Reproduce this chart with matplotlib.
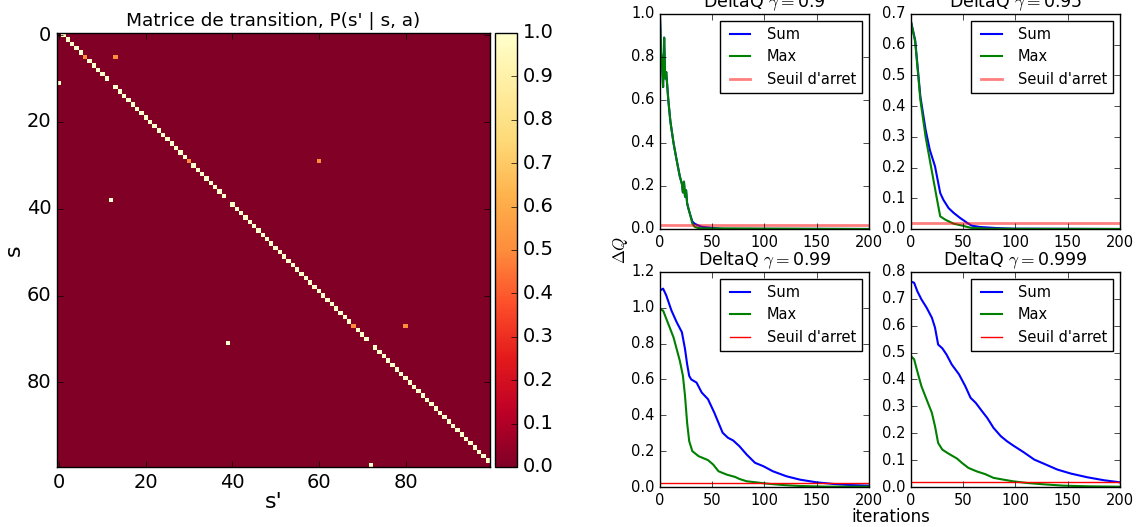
import numpy as np
import matplotlib as mpl
mpl.use('Agg')
import matplotlib.pyplot as plt

plt.style.use('classic')
plt.rcParams['figure.facecolor'] = 'white'
plt.rcParams['savefig.facecolor'] = 'white'

######### transition matrix #########
n_states = 100
# states that do not move to s+1 but jump elsewhere with prob 1
jump_from = [11, 38, 71, 99]
jump_to = [0, 12, 39, 72]
# states that split 0.5 / 0.5 between s+1 and another state
split_from = [5, 29, 67]
split_to = [13, 60, 80]
split_p = 0.5

######### DeltaQ curves (iteration, value) #########
gammas = [0.9, 0.95, 0.99, 0.999]
seuil = 0.02

it_sum_09 = [0, 1, 2, 3, 4, 5, 6, 8, 10, 13, 16, 19, 21, 22, 23, 24, 25, 26, 27, 29, 31, 33, 36, 40, 50, 60, 200]
sum_09 = [1.0, 0.82, 0.78, 0.66, 0.89, 0.70, 0.73, 0.60, 0.50, 0.40, 0.32, 0.245, 0.21, 0.17, 0.22, 0.15, 0.18, 0.12, 0.10, 0.065, 0.035, 0.025, 0.018, 0.010, 0.005, 0.0005, 0.0]
it_max_09 = [0, 1, 2, 3, 4, 5, 6, 8, 10, 13, 16, 19, 21, 22, 23, 24, 25, 26, 27, 29, 31, 33, 36, 40, 200]
max_09 = [1.0, 0.82, 0.78, 0.66, 0.89, 0.70, 0.73, 0.60, 0.50, 0.40, 0.32, 0.245, 0.21, 0.17, 0.22, 0.15, 0.18, 0.12, 0.10, 0.065, 0.026, 0.011, 0.005, 0.003, 0.0]

it_sum_095 = [0, 4, 9, 14, 18, 23, 28, 31, 36, 41, 47, 54, 58, 66, 82, 98, 200]
sum_095 = [0.675, 0.615, 0.431, 0.323, 0.258, 0.204, 0.117, 0.095, 0.068, 0.052, 0.036, 0.0195, 0.011, 0.0065, 0.003, 0.001, 0.0]
it_max_095 = [0, 4, 9, 14, 18, 25, 28, 33, 41, 49, 57, 73, 200]
max_095 = [0.675, 0.61, 0.42, 0.30, 0.225, 0.095, 0.041, 0.030, 0.017, 0.011, 0.004, 0.001, 0.0]

it_sum_099 = [0, 3, 6, 11, 16, 21, 24, 26, 28, 30, 35, 40, 46, 52, 56, 60, 65, 70, 76, 83, 91, 99, 108, 121, 134, 150, 166, 182, 200]
sum_099 = [1.097, 1.107, 1.07, 0.985, 0.92, 0.864, 0.77, 0.686, 0.62, 0.60, 0.583, 0.527, 0.49, 0.415, 0.359, 0.303, 0.275, 0.26, 0.228, 0.181, 0.135, 0.116, 0.088, 0.06, 0.041, 0.026, 0.017, 0.011, 0.0075]
it_max_099 = [0, 3, 6, 13, 19, 22, 24, 26, 28, 31, 37, 46, 51, 56, 64, 72, 76, 83, 92, 102, 118, 134, 160, 200]
max_099 = [0.99, 0.985, 0.94, 0.835, 0.705, 0.62, 0.508, 0.359, 0.256, 0.20, 0.172, 0.15, 0.125, 0.088, 0.069, 0.056, 0.045, 0.032, 0.026, 0.019, 0.011, 0.0056, 0.002, 0.002]

it_sum_0999 = [0, 3, 6, 10, 15, 20, 23, 26, 30, 34, 39, 46, 52, 57, 62, 68, 73, 79, 86, 92, 98, 108, 118, 127, 140, 153, 169, 185, 200]
sum_0999 = [0.764, 0.76, 0.729, 0.698, 0.667, 0.63, 0.593, 0.53, 0.516, 0.493, 0.456, 0.419, 0.375, 0.332, 0.313, 0.282, 0.257, 0.22, 0.189, 0.17, 0.154, 0.129, 0.102, 0.087, 0.065, 0.05, 0.036, 0.025, 0.0174]
it_max_0999 = [0, 3, 6, 10, 15, 20, 23, 26, 30, 36, 44, 49, 55, 63, 71, 79, 89, 98, 111, 127, 146, 170, 200]
max_0999 = [0.487, 0.475, 0.431, 0.375, 0.325, 0.276, 0.226, 0.164, 0.139, 0.124, 0.106, 0.089, 0.071, 0.058, 0.048, 0.034, 0.027, 0.021, 0.015, 0.010, 0.005, 0.0025, 0.001]

curves = [
    (it_sum_09, sum_09, it_max_09, max_09),
    (it_sum_095, sum_095, it_max_095, max_095),
    (it_sum_099, sum_099, it_max_099, max_099),
    (it_sum_0999, sum_0999, it_max_0999, max_0999),
]
ylims = [1.0, 0.7, 1.2, 0.8]

######### build P #########
P = np.zeros((n_states, n_states))
for s in range(n_states - 1):
    P[s, s + 1] = 1.0
for s, t in zip(jump_from, jump_to):
    P[s, :] = 0.0
    P[s, t] = 1.0
for s, t in zip(split_from, split_to):
    P[s, s + 1] = split_p
    P[s, t] = 1.0 - split_p

fig = plt.figure(figsize=(11.4, 5.27), dpi=100)

# left : heatmap  (left, bottom, width, height)
ax = fig.add_axes([0.05, 0.1139, 0.3798, 0.8235])
im = ax.imshow(P, cmap='YlOrRd_r', interpolation='nearest', vmin=0, vmax=1, aspect='auto')
ax.set_xticks([0, 20, 40, 60, 80])
ax.set_yticks([0, 20, 40, 60, 80])
ax.tick_params(labelsize=14)
ax.set_title("Matrice de transition, P(s' | s, a)", fontsize=13.3)
ax.set_xlabel("s'", fontsize=16, labelpad=0)
ax.set_ylabel("s", fontsize=16, labelpad=2)
cax = fig.add_axes([0.4342, 0.1139, 0.0193, 0.8235])
cb = fig.colorbar(im, cax=cax, ticks=np.arange(0, 1.01, 0.1))
cb.ax.tick_params(labelsize=14)

# right : 2x2 DeltaQ
pos = [[0.5789, 0.5655, 0.1833, 0.408], [0.7991, 0.5655, 0.1833, 0.408],
       [0.5789, 0.0759, 0.1833, 0.408], [0.7991, 0.0759, 0.1833, 0.408]]
for k in range(4):
    a = fig.add_axes(pos[k])
    xs, ys, xm, ym = curves[k]
    a.plot(xs, ys, color='b', lw=1.5, label='Sum')
    a.plot(xm, ym, color='g', lw=1.5, label='Max')
    if k < 2:
        a.axhline(seuil, color='r', lw=2, alpha=0.5, label="Seuil d'arret")
    else:
        a.axhline(seuil, color='r', lw=1, label="Seuil d'arret")
    a.set_xlim(0, 200)
    a.set_ylim(0, ylims[k])
    a.set_xticks([0, 50, 100, 150, 200])
    a.tick_params(labelsize=10.5)
    a.set_title(r'DeltaQ $\gamma=$' + str(gammas[k]), fontsize=12.5)
    a.legend(loc='upper right', fontsize=10.5)

fig.text(0.544, 0.526, r'$\Delta Q$', rotation=90, fontsize=12, ha='center', va='center')
fig.text(0.781, 0.019, 'iterations', fontsize=12, ha='center', va='center')

fig.savefig('out.png', dpi=100)
